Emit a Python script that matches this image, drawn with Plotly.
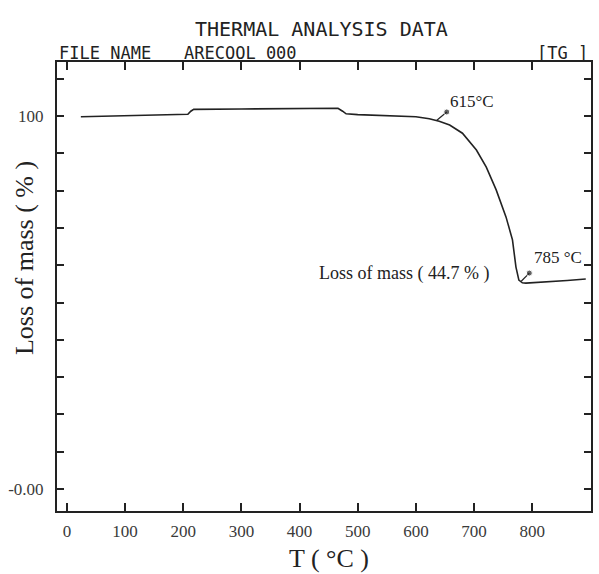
import plotly.graph_objects as go

# ---- data ----
temp_c = [24, 100, 150, 208, 213, 218, 300, 400, 455, 466, 474, 480, 500, 550, 600,
          623, 640, 658, 680, 704, 721, 738, 755, 766, 772, 777, 783, 789, 800, 829, 860, 892]
mass_pct = [99.8, 100.1, 100.3, 100.5, 101.3, 101.8, 101.9, 102.0, 102.0, 102.1, 101.3, 100.6,
            100.4, 100.2, 99.8, 99.3, 98.6, 97.6, 95.4, 90.9, 86.3, 80.2, 72.9, 66.8, 59.5,
            56.0, 55.3, 55.2, 55.3, 55.5, 55.9, 56.3]

onset_marker_t = [636, 653]
onset_marker_m = [98.9, 101.1]
end_marker_t = [781, 795]
end_marker_m = [55.7, 57.9]

x_tick_vals = [0, 100, 200, 300, 400, 500, 600, 700, 800]
x_tick_text = ["0", "100", "200", "300", "400", "500", "600", "700", "800"]
y_tick_vals = [0, 10, 20, 30, 40, 50, 60, 70, 80, 90, 100, 110]
y_tick_text = ["-0.00", "", "", "", "", "", "", "", "", "", "100", ""]

INK = "#222222"
SERIF = "Liberation Serif, Times New Roman, serif"
PLOTTER = "DejaVu Sans Mono, monospace"

fig = go.Figure()
fig.add_trace(go.Scatter(x=temp_c, y=mass_pct, mode="lines",
                         line=dict(color=INK, width=1.6), hoverinfo="skip", showlegend=False))
for tx, my in ((onset_marker_t, onset_marker_m), (end_marker_t, end_marker_m)):
    fig.add_trace(go.Scatter(x=tx, y=my, mode="lines+markers",
                             line=dict(color=INK, width=1.2),
                             marker=dict(size=[0, 6], color=INK),
                             hoverinfo="skip", showlegend=False))

ann = []
ann.append(dict(x=656, y=103.8, xref="x", yref="y", text="615°C", showarrow=False,
                xanchor="left", yanchor="middle", font=dict(family=SERIF, size=17, color=INK)))
ann.append(dict(x=800, y=62.0, xref="x", yref="y", text="785 °C", showarrow=False,
                xanchor="left", yanchor="middle", font=dict(family=SERIF, size=17, color=INK)))
ann.append(dict(x=729, y=57.9, xref="x", yref="y", text="Loss of mass ( 44.7 % )", showarrow=False,
                xanchor="right", yanchor="middle", font=dict(family=SERIF, size=18, color=INK)))
# header texts (plotter style), pixel positions converted below
ann.append(dict(x=322, y=29, text="THERMAL ANALYSIS DATA", showarrow=False, xanchor="center",
                font=dict(family=PLOTTER, size=20, color=INK)))
ann.append(dict(x=57, y=53, text="FILE NAME", showarrow=False, xanchor="left",
                font=dict(family=PLOTTER, size=17, color=INK)))
ann.append(dict(x=182, y=53, text="ARECOOL 000", showarrow=False, xanchor="left",
                font=dict(family=PLOTTER, size=17, color=INK)))
ann.append(dict(x=592, y=53, text="[TG ]", showarrow=False, xanchor="right",
                font=dict(family=PLOTTER, size=17, color=INK)))
# axis titles
ann.append(dict(x=330, y=558, text="T ( °C )", showarrow=False, xanchor="center",
                font=dict(family=SERIF, size=26, color=INK)))
ann.append(dict(x=24, y=258, text="Loss of mass ( % )", showarrow=False, textangle=-90,
                xanchor="center", font=dict(family=SERIF, size=26, color=INK)))

W, H = 599, 574
L, R, T, B = 57, 6, 62, 63
for a in ann:
    if a.get("xref") == "x":
        continue
    px, py = a["x"], a["y"]
    a["xref"] = "paper"
    a["yref"] = "paper"
    a["yanchor"] = "middle"
    a["x"] = (px - L) / (W - L - R)
    a["y"] = 1 - (py - T) / (H - T - B)

fig.update_layout(
    width=W, height=H,
    margin=dict(l=L, r=R, t=T, b=B, pad=0),
    paper_bgcolor="white", plot_bgcolor="white",
    annotations=ann,
    xaxis=dict(range=[-17, 901], tickvals=x_tick_vals, ticktext=x_tick_text,
               ticks="inside", ticklen=8, tickwidth=1.5, tickcolor=INK,
               showline=True, linewidth=2, linecolor=INK, mirror="allticks",
               showgrid=False, zeroline=False, ticklabelstandoff=4,
               tickfont=dict(family=SERIF, size=17, color="#3a3a3a")),
    yaxis=dict(range=[-5.9, 114.5], tickvals=y_tick_vals, ticktext=y_tick_text,
               ticks="inside", ticklen=7, tickwidth=1.5, tickcolor=INK,
               showline=True, linewidth=2, linecolor=INK, mirror="allticks",
               showgrid=False, zeroline=False, ticklabelstandoff=8,
               tickfont=dict(family=SERIF, size=17, color="#3a3a3a")),
)

fig.write_html("out.html", config={"displayModeBar": False},
               post_script="document.body.style.margin='0';")
